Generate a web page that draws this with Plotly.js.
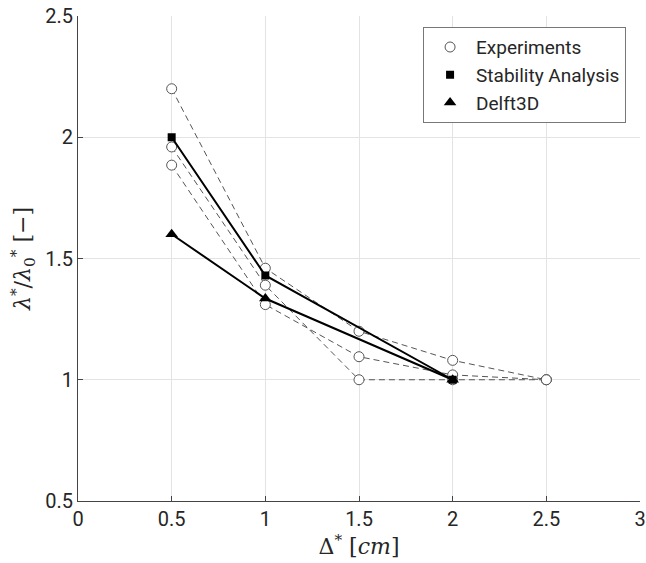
<!DOCTYPE html>
<html>
<head>
<meta charset="utf-8">
<script src="https://cdn.plot.ly/plotly-3.0.1.min.js"></script>
<style>body{margin:0;padding:0;background:#fff;}</style>
</head>
<body>
<div id="chart" style="width:646px;height:563px;"></div>
<script>
// Experiments (three runs)
const expX = [0.5, 1, 1.5, 2, 2.5];
const expA = [2.2, 1.46, 1.2, 1.08, 1.0];
const expB = [1.96, 1.39, 1.0, 1.0, 1.0];
const expC = [1.885, 1.31, 1.095, 1.02, 1.0];
// Stability analysis
const stabX = [0.5, 1, 2];
const stabY = [2.0, 1.43, 1.0];
// Delft3D
const delftX = [0.5, 1, 2];
const delftY = [1.6, 1.335, 1.0];

const xTicks = [0, 0.5, 1, 1.5, 2, 2.5, 3];
const xTickText = ['0', '0.5', '1', '1.5', '2', '2.5', '3'];
const yTicks = [0.5, 1, 1.5, 2, 2.5];
const yTickText = ['0.5', '1', '1.5', '2', '2.5'];

const expLine = {color: '#555', width: 1, dash: '6px,4px'};
const expMarker = {symbol: 'circle', size: 10, color: '#fff', line: {color: '#555', width: 1}};

const traces = [];
[expA, expB, expC].forEach(function (ys) {
  traces.push({x: expX, y: ys, mode: 'lines+markers', line: expLine, marker: expMarker,
    showlegend: false, hoverinfo: 'skip'});
});
traces.push({x: stabX, y: stabY, mode: 'lines+markers', line: {color: '#000', width: 2},
  marker: {symbol: 'square', size: 8, color: '#000'}, showlegend: false});
traces.push({x: delftX, y: delftY, mode: 'lines+markers', line: {color: '#000', width: 2},
  marker: {symbol: 'triangle-up', size: 11, color: '#000'}, showlegend: false});
// legend-only entries (markers only)
traces.push({x: [null], y: [null], mode: 'markers', name: 'Experiments', marker: expMarker});
traces.push({x: [null], y: [null], mode: 'markers', name: 'Stability Analysis',
  marker: {symbol: 'square', size: 8, color: '#000'}});
traces.push({x: [null], y: [null], mode: 'markers', name: 'Delft3D',
  marker: {symbol: 'triangle-up', size: 11, color: '#000'}});

const tickFont = {family: 'Roboto, sans-serif', size: 20, color: '#262626'};

const layout = {
  width: 646, height: 563,
  margin: {l: 78, r: 6, t: 16, b: 62},
  paper_bgcolor: '#fff', plot_bgcolor: '#fff',
  font: tickFont,
  xaxis: {
    range: [0, 3], tickvals: xTicks, ticktext: xTickText,
    showgrid: true, gridcolor: '#e3e3e3', gridwidth: 1,
    zeroline: false, showline: true, linecolor: '#444', linewidth: 1,
    ticks: 'inside', ticklen: 5, tickcolor: '#444', tickfont: tickFont,
    title: {text: 'Δ<sup>*</sup> [<i>cm</i>]', font: {family: 'DejaVu Serif, serif', size: 22, color: '#262626'}, standoff: 6}
  },
  yaxis: {
    range: [0.5, 2.5], tickvals: yTicks, ticktext: yTickText,
    showgrid: true, gridcolor: '#e3e3e3', gridwidth: 1,
    zeroline: false, showline: true, linecolor: '#444', linewidth: 1,
    ticks: 'inside', ticklen: 5, tickcolor: '#444', tickfont: tickFont,
    title: {text: '<i>λ</i><sup>*</sup>/<i>λ</i><sub>0</sub><sup>*</sup> [−]', font: {family: 'DejaVu Serif, serif', size: 22, color: '#262626'}, standoff: 8}
  },
  legend: {
    x: 0.614, y: 0.977, xanchor: 'left', yanchor: 'top',
    bgcolor: '#fff', bordercolor: '#777', borderwidth: 1,
    font: {family: 'Roboto, sans-serif', size: 19, color: '#262626'},
    itemwidth: 42, tracegroupgap: 0
  },
  showlegend: true
};

Plotly.newPlot('chart', traces, layout, {displayModeBar: false, staticPlot: true});
</script>
</body>
</html>
